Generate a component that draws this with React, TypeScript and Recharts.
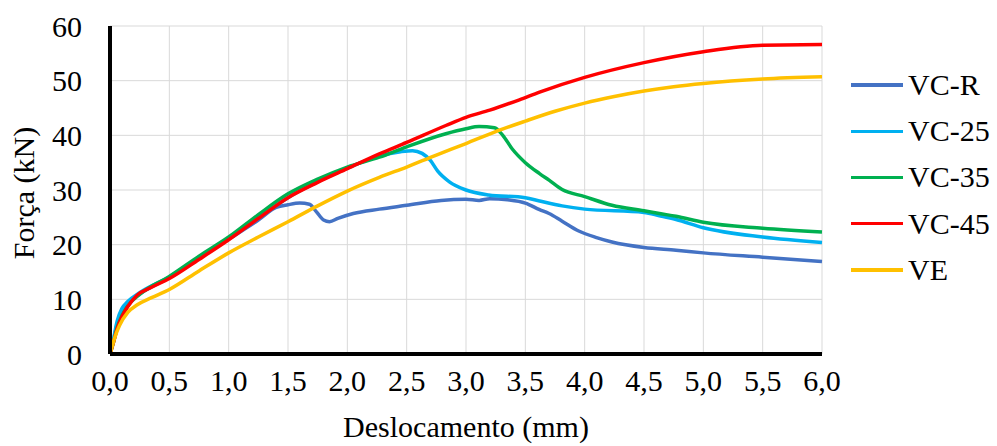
import { CartesianGrid, Line, LineChart, XAxis, YAxis } from 'recharts'

type Pt = [number, number]

const xTicks = [0, 0.5, 1, 1.5, 2, 2.5, 3, 3.5, 4, 4.5, 5, 5.5, 6]
const yTicks = [0, 10, 20, 30, 40, 50, 60]

// deslocamento (mm), força (kN)
const vcR: Pt[] = [
  [0, 0], [0.03, 2.5], [0.06, 5.5], [0.1, 7.8], [0.15, 9.3], [0.25, 11], [0.5, 14],
  [0.75, 17.5], [1.0, 21], [1.25, 24.5], [1.4, 26.8], [1.5, 27.3], [1.6, 27.6],
  [1.68, 27.4], [1.74, 26], [1.8, 24.5], [1.85, 24.2], [1.92, 24.8], [2.05, 25.7],
  [2.27, 26.5], [2.5, 27.2], [2.79, 28.1], [3.0, 28.3], [3.11, 28.1], [3.2, 28.4],
  [3.35, 28.2], [3.5, 27.6], [3.62, 26.4], [3.7, 25.7], [3.81, 24.3], [3.95, 22.5],
  [4.1, 21.3], [4.23, 20.5], [4.5, 19.5], [4.77, 19.0], [5.0, 18.5], [5.5, 17.7], [6.0, 16.9],
]
const vc25: Pt[] = [
  [0, 0], [0.03, 2.8], [0.06, 6], [0.1, 8.3], [0.15, 9.6], [0.25, 11.2], [0.5, 14.1],
  [0.75, 17.6], [1.0, 21.1], [1.25, 24.9], [1.5, 28.6], [1.75, 31.5], [2.0, 34],
  [2.27, 36.2], [2.45, 37], [2.55, 37.2], [2.63, 36.7], [2.7, 35.4], [2.76, 33.5],
  [2.86, 31.5], [3.0, 30], [3.19, 29.1], [3.5, 28.6], [3.62, 28], [3.81, 27.1],
  [4.0, 26.5], [4.5, 25.9], [4.63, 25.3], [4.77, 24.6], [5.0, 23.1], [5.5, 21.4], [6.0, 20.4],
]
const vc35: Pt[] = [
  [0, 0], [0.03, 2.2], [0.06, 4.8], [0.1, 7], [0.15, 8.8], [0.25, 10.9], [0.5, 14.2],
  [0.75, 17.9], [1.0, 21.4], [1.25, 25.5], [1.5, 29.3], [1.75, 32], [2.0, 34.2],
  [2.27, 36], [2.5, 37.9], [2.83, 40.3], [3.0, 41.2], [3.11, 41.6], [3.24, 41.4],
  [3.31, 40], [3.39, 37.5], [3.5, 35], [3.62, 33], [3.7, 31.8], [3.81, 30.1],
  [4.0, 28.8], [4.23, 27.2], [4.5, 26.2], [4.63, 25.7], [4.77, 25.2], [5.0, 24.1],
  [5.5, 23], [6.0, 22.3],
]
const vc45: Pt[] = [
  [0, 0], [0.03, 2.2], [0.06, 4.6], [0.1, 6.8], [0.15, 8.7], [0.23, 10.8], [0.35, 12.2],
  [0.5, 13.8], [0.75, 17.3], [1.0, 20.9], [1.25, 24.8], [1.5, 28.6], [1.75, 31.4],
  [2.0, 33.9], [2.27, 36.6], [2.5, 38.7], [2.83, 41.8], [3.0, 43.3], [3.2, 44.6],
  [3.45, 46.5], [3.62, 47.9], [4.0, 50.6], [4.5, 53.3], [5.0, 55.3], [5.5, 56.5], [6.0, 56.6],
]
const ve: Pt[] = [
  [0, 0], [0.02, 1.5], [0.04, 3], [0.08, 5.2], [0.15, 7.6], [0.23, 9], [0.35, 10.3],
  [0.5, 11.8], [0.75, 15.2], [1.0, 18.5], [1.25, 21.4], [1.5, 24.2], [1.75, 27.1],
  [2.0, 29.8], [2.27, 32.3], [2.5, 34.2], [2.75, 36.4], [3.0, 38.5], [3.24, 40.6],
  [3.5, 42.6], [3.75, 44.4], [4.0, 45.9], [4.25, 47.1], [4.5, 48.1], [4.75, 48.9],
  [5.0, 49.5], [5.5, 50.3], [6.0, 50.7],
]

const series = [
  { name: 'VC-R', color: '#4472C4', points: vcR },
  { name: 'VC-25', color: '#00B0F0', points: vc25 },
  { name: 'VC-35', color: '#00B050', points: vc35 },
  { name: 'VC-45', color: '#FF0000', points: vc45 },
  { name: 'VE', color: '#FFC000', points: ve },
]

const FONT = "'Liberation Serif', 'Times New Roman', serif"

const toRows = (pts: Pt[]) => pts.map(([x, y]) => ({ x, y }))
const fmt = (v: number) => v.toFixed(1).replace('.', ',')

function YTitle({ viewBox }: any) {
  const cx = 23
  const cy = viewBox ? viewBox.y + viewBox.height / 2 + 3 : 193
  return (
    <text
      x={cx}
      y={cy}
      transform={`rotate(-90 ${cx} ${cy})`}
      textAnchor="middle"
      dominantBaseline="central"
      fontFamily={FONT}
      fontSize={30}
      fill="#000"
    >
      Força (kN)
    </text>
  )
}

function XTitle({ viewBox }: any) {
  const cx = viewBox ? viewBox.x + viewBox.width / 2 : 466
  return (
    <text x={cx} y={437} textAnchor="middle" fontFamily={FONT} fontSize={30} fill="#000">
      Deslocamento (mm)
    </text>
  )
}

export default function App() {
  return (
    <div style={{ position: 'absolute', left: 0, top: 0, width: 997, height: 446, background: '#fff' }}>
      <LineChart width={997} height={446} margin={{ top: 26, right: 175, left: 0, bottom: 0 }}>
        <CartesianGrid stroke="#d9d9d9" strokeWidth={1} />
        <XAxis
          dataKey="x"
          type="number"
          domain={[0, 6]}
          ticks={xTicks}
          tickFormatter={fmt}
          height={92}
          tickSize={0}
          tickMargin={16}
          axisLine={{ stroke: '#000', strokeWidth: 4 }}
          tick={{ fontFamily: FONT, fontSize: 30, fill: '#000' }}
          label={<XTitle />}
        />
        <YAxis
          type="number"
          domain={[0, 60]}
          ticks={yTicks}
          width={110}
          tickSize={0}
          tickMargin={28}
          axisLine={{ stroke: '#000', strokeWidth: 4 }}
          tick={{ fontFamily: FONT, fontSize: 30, fill: '#000' }}
          label={<YTitle />}
        />
        {series.map((s) => (
          <Line
            key={s.name}
            name={s.name}
            data={toRows(s.points)}
            dataKey="y"
            type="monotone"
            stroke={s.color}
            strokeWidth={3.5}
            dot={false}
            activeDot={false}
            isAnimationActive={false}
          />
        ))}
      </LineChart>
      <div style={{ position: 'absolute', left: 851, top: 62, fontFamily: FONT, fontSize: 30, color: '#000' }}>
        {series.map((s) => (
          <div key={s.name} style={{ display: 'flex', alignItems: 'center', height: 46.2 }}>
            <span style={{ display: 'inline-block', width: 52, height: 3.5, background: s.color, marginRight: 5 }} />
            <span style={{ lineHeight: '30px' }}>{s.name}</span>
          </div>
        ))}
      </div>
    </div>
  )
}
